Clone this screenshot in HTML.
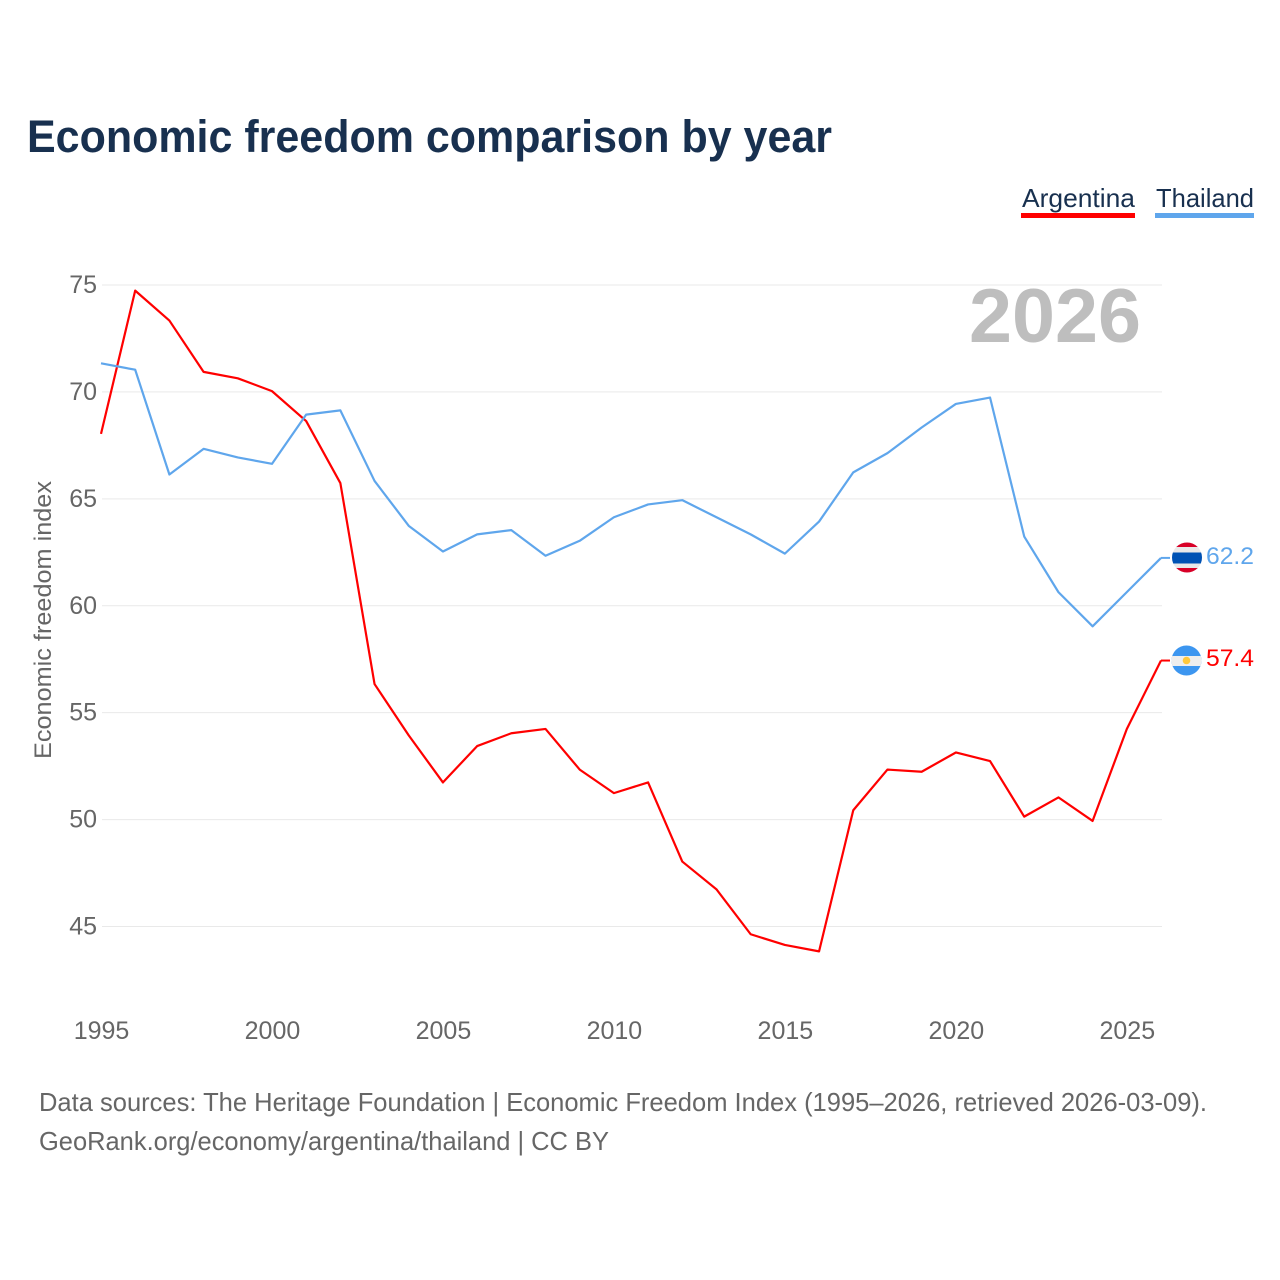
<!DOCTYPE html>
<html lang="en">
<head>
<meta charset="utf-8">
<title>Economic freedom comparison by year</title>
<style>
html,body{margin:0;padding:0;background:#fff;width:1280px;height:1280px;overflow:hidden}
svg{display:block}
text{font-family:"Liberation Sans",sans-serif}
</style>
</head>
<body>
<svg id="chart" xmlns="http://www.w3.org/2000/svg" width="1280" height="1280" viewBox="0 0 1280 1280">
  <rect x="0" y="0" width="1280" height="1280" fill="#ffffff"/>
  <text x="27" y="152" font-size="45" font-weight="700" fill="#18304f" textLength="805" lengthAdjust="spacingAndGlyphs">Economic freedom comparison by year</text>

  <g>
    <g>
      <text x="1022" y="207" font-size="26" fill="#18304f" textLength="113" lengthAdjust="spacingAndGlyphs">Argentina</text>
      <rect x="1021" y="213" width="114" height="5" fill="#ff0000"/>
    </g>
    <g>
      <text x="1156" y="207" font-size="26" fill="#18304f" textLength="98" lengthAdjust="spacingAndGlyphs">Thailand</text>
      <rect x="1155" y="213" width="99" height="5" fill="#5fa6ec"/>
    </g>
  </g>

  <g id="grid"></g>
  <text x="969" y="342" font-size="76" font-weight="700" fill="#bebebe" textLength="172" lengthAdjust="spacingAndGlyphs">2026</text>
  <g id="yticks"></g>
  <g id="xticks"></g>
  <text x="0" y="0" transform="translate(51,759) rotate(-90)" font-size="24" fill="#666666" textLength="278" lengthAdjust="spacingAndGlyphs">Economic freedom index</text>
  <g id="series" transform="translate(-0.5,-0.8)"></g>

  <defs>
    <clipPath id="clip-th"><circle cx="1187" cy="557.5" r="15"/></clipPath>
    <clipPath id="clip-ar"><circle cx="1186.5" cy="660.5" r="15"/></clipPath>
  </defs>
  <g clip-path="url(#clip-th)">
    <rect x="1171" y="542" width="32" height="32" fill="#e9e9e9"/>
    <rect x="1171" y="542" width="32" height="5" fill="#d80027"/>
    <rect x="1171" y="568" width="32" height="6" fill="#d80027"/>
    <rect x="1171" y="552.5" width="32" height="11" fill="#0052b4"/>
  </g>
  <g clip-path="url(#clip-ar)">
    <rect x="1171" y="645" width="32" height="32" fill="#3c96f0"/>
    <rect x="1171" y="656" width="32" height="10" fill="#eeeeee"/>
    <circle cx="1186.5" cy="660.5" r="3.8" fill="#ffc83d"/>
  </g>
  <text x="1206" y="564" font-size="24" fill="#5fa6ec" textLength="48" lengthAdjust="spacingAndGlyphs">62.2</text>
  <text x="1206" y="666" font-size="24" fill="#ff0000" textLength="48" lengthAdjust="spacingAndGlyphs">57.4</text>

  <text x="39" y="1111" font-size="26" fill="#666666" textLength="1168" lengthAdjust="spacingAndGlyphs">Data sources: The Heritage Foundation | Economic Freedom Index (1995–2026, retrieved 2026-03-09).</text>
  <text x="39" y="1150" font-size="26" fill="#666666" textLength="570" lengthAdjust="spacingAndGlyphs">GeoRank.org/economy/argentina/thailand | CC BY</text>
</svg>
<script>
const years = [1995,1996,1997,1998,1999,2000,2001,2002,2003,2004,2005,2006,2007,2008,2009,2010,2011,2012,2013,2014,2015,2016,2017,2018,2019,2020,2021,2022,2023,2024,2025,2026];
const argentina = [68,74.7,73.3,70.9,70.6,70,68.6,65.7,56.3,53.9,51.7,53.4,54,54.2,52.3,51.2,51.7,48,46.7,44.6,44.1,43.8,50.4,52.3,52.2,53.1,52.7,50.1,51,49.9,54.2,57.4];
const thailand = [71.3,71,66.1,67.3,66.9,66.6,68.9,69.1,65.8,63.7,62.5,63.3,63.5,62.3,63,64.1,64.7,64.9,64.1,63.3,62.4,63.9,66.2,67.1,68.3,69.4,69.7,63.2,60.6,59,60.6,62.2];
const yTickLabels = [45,50,55,60,65,70,75];
const xTickLabels = [1995,2000,2005,2010,2015,2020,2025];

const SVG_NS = 'http://www.w3.org/2000/svg';
function xScale(year) { return 101.5 + (year - 1995) * (1161.5 - 101.5) / 31; }
function yScale(value) { return 926.5 - (value - 45) * (926.5 - 285) / 30; }

const gridGroup = document.getElementById('grid');
const yGroup = document.getElementById('yticks');
const xGroup = document.getElementById('xticks');
const seriesGroup = document.getElementById('series');

yTickLabels.forEach(function (tick) {
  const line = document.createElementNS(SVG_NS, 'line');
  
  
  line.setAttribute('x1', 102);
  line.setAttribute('x2', 1162);
  line.setAttribute('y1', yScale(tick));
  line.setAttribute('y2', yScale(tick));
  line.setAttribute('stroke', '#e9e9e9');
  line.setAttribute('stroke-width', 1);
  gridGroup.appendChild(line);

  const label = document.createElementNS(SVG_NS, 'text');
  
  
  label.setAttribute('x', 97);
  label.setAttribute('y', yScale(tick) + 8);
  label.setAttribute('text-anchor', 'end');
  label.setAttribute('font-size', 25);
  label.setAttribute('fill', '#666666');
  label.textContent = tick;
  yGroup.appendChild(label);
});

xTickLabels.forEach(function (tick) {
  const label = document.createElementNS(SVG_NS, 'text');
  
  
  label.setAttribute('x', xScale(tick));
  label.setAttribute('y', 1039);
  label.setAttribute('text-anchor', 'middle');
  label.setAttribute('font-size', 25);
  label.setAttribute('fill', '#666666');
  label.textContent = tick;
  xGroup.appendChild(label);
});

function drawSeries(values, color) {
  const path = document.createElementNS(SVG_NS, 'polyline');
  path.setAttribute('points', values.map(function (v, i) {
    return xScale(years[i]).toFixed(2) + ',' + yScale(v).toFixed(2);
  }).join(' '));
  path.setAttribute('fill', 'none');
  path.setAttribute('stroke', color);
  path.setAttribute('stroke-width', 2.2);
  path.setAttribute('stroke-linejoin', 'round');
  seriesGroup.appendChild(path);
  return path;
}

const argentinaLine = drawSeries(argentina, '#ff0000');


const thailandLine = drawSeries(thailand, '#5fa6ec');



function drawConnector(value, color) {
  const tick = document.createElementNS(SVG_NS, 'line');
  tick.setAttribute('x1', xScale(2026));
  tick.setAttribute('x2', xScale(2026) + 9);
  tick.setAttribute('y1', yScale(value));
  tick.setAttribute('y2', yScale(value));
  tick.setAttribute('stroke', color);
  tick.setAttribute('stroke-width', 2);
  seriesGroup.appendChild(tick);
  return tick;
}
const argentinaConnector = drawConnector(argentina[argentina.length - 1], '#ff0000');


const thailandConnector = drawConnector(thailand[thailand.length - 1], '#5fa6ec');


</script>
</body>
</html>
